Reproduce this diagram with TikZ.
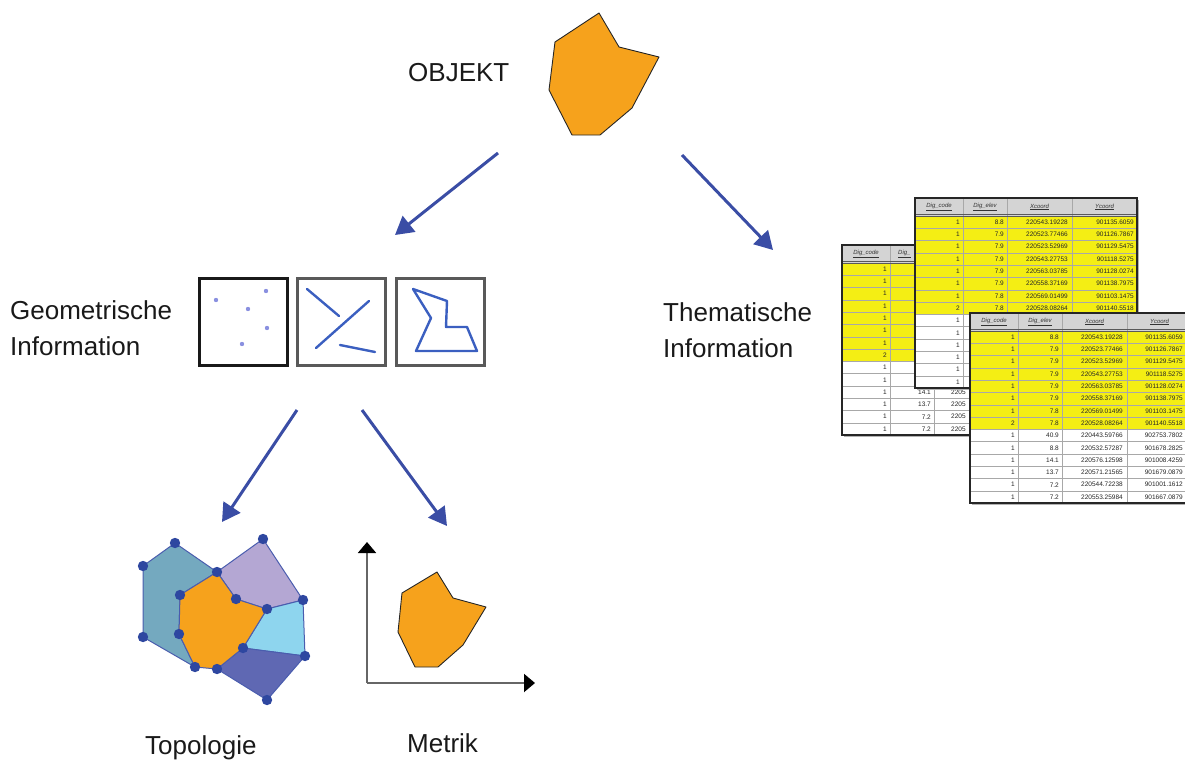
\documentclass[tikz,border=0pt]{standalone}
\usepackage{fontspec}
\setmainfont{Liberation Sans}
\usetikzlibrary{arrows.meta}
\definecolor{objorange}{HTML}{F6A21C}
\definecolor{arrowblue}{HTML}{3A4DA5}
\definecolor{topoteal}{HTML}{74A9BF}
\definecolor{topolilac}{HTML}{B4A7D3}
\definecolor{topolight}{HTML}{8ED5EE}
\definecolor{topodark}{HTML}{5F68B3}
\definecolor{topodot}{HTML}{2E47A0}
\definecolor{topoedge}{HTML}{4A5DAE}
\definecolor{geoline}{HTML}{3B5FC0}
\definecolor{geodot}{HTML}{8A90E0}
\definecolor{tabyellow}{HTML}{F4EE14}
\definecolor{tabhead}{HTML}{D4D4D4}
\definecolor{tabgrid}{HTML}{A8A8A8}
\newcommand{\tabdata}{%
    1/8.8/220543.19228/901135.6059,
    1/7.9/220523.77466/901126.7867,
    1/7.9/220523.52969/901129.5475,
    1/7.9/220543.27753/901118.5275,
    1/7.9/220563.03785/901128.0274,
    1/7.9/220558.37169/901138.7975,
    1/7.8/220569.01499/901103.1475,
    2/7.8/220528.08264/901140.5518,
    1/40.9/220443.59766/902753.7802,
    1/8.8/220532.57287/901678.2825,
    1/14.1/220576.12598/901008.4259,
    1/13.7/220571.21565/901679.0879,
    1/7.2/220544.72238/901001.1612,
    1/7.2/220553.25984/901667.0879}
% #1 x, #2 y, #3 name, #4 which table (1 back, 2 middle, 3 front)
\newcommand{\datatable}[4]{%
\begin{scope}[shift={(#1,#2)}]
  \fill[gray!60] (2,2) rectangle (224,192);
  \fill[white] (0,0) rectangle (222,190.2);
  \fill[tabhead] (0,0) rectangle (222,18);
  \fill[tabyellow] (0,18) rectangle (222,116.4);
  \foreach \k in {1,...,14}{
    \pgfmathsetmacro\yl{18+\k*12.3}
    \draw[tabgrid, line width=0.6pt] (0,\yl) -- (222,\yl);
  }
  \foreach \xx in {48,92,157}{
    \draw[tabgrid, line width=0.6pt] (\xx,0) -- (\xx,190.2);
  }
  \draw[gray!70!black, line width=1pt] (0,18) -- (222,18);
  \draw[gray!70!black, line width=0.6pt] (0,16) -- (222,16);
  \node[headtxt] (#3-h1) at (24,9) {\underline{Dig\_code}};
  \ifcase#4\or
    \node[headtxt, anchor=west] (#3-h2) at (56,9) {\underline{Dig\_}};
  \else
    \node[headtxt] (#3-h2) at (70,9) {\underline{Dig\_elev}};
    \node[headtxt] (#3-h3) at (124.5,9) {\underline{Xcoord}};
    \node[headtxt] (#3-h4) at (189.5,9) {\underline{Ycoord}};
  \fi
  \foreach \a/\b/\c/\d [count=\i] in \tabdata {
    \pgfmathsetmacro\yy{18+(\i-0.5)*12.3}
    \node[celltxt] (#3-\i-a) at (45,\yy) {\a};
    \ifcase#4\or
      \ifnum\i>10
        \node[celltxt] (#3-\i-b) at (89,\yy) {\b};
        \node[celltxt, anchor=west] (#3-\i-c) at (109,\yy) {2205};
      \fi
    \or
      \ifnum\i<9
        \node[celltxt] (#3-\i-b) at (89,\yy) {\b};
        \node[celltxt] (#3-\i-c) at (153,\yy) {\c};
        \node[celltxt] (#3-\i-d) at (219,\yy) {\d};
      \fi
    \or
      \node[celltxt] (#3-\i-b) at (89,\yy) {\b};
      \node[celltxt] (#3-\i-c) at (153,\yy) {\c};
      \node[celltxt] (#3-\i-d) at (213,\yy) {\d};
    \fi
  }
  \draw[black!85, line width=2pt] (0,0) rectangle (222,190.2);
\end{scope}}
\begin{document}
\begin{tikzpicture}[x=1pt,y=-1pt,
  lbl/.style={font=\fontsize{26}{36}\selectfont, inner sep=0pt, align=left, text=black!90},
  blarrow/.style={draw=arrowblue, line width=3pt, -{Triangle[length=18pt,width=20pt]}},
  obj/.style={fill=objorange, draw=black!85, line width=0.9pt, line join=round},
  axisline/.style={draw=gray!80!black, line width=2pt, -{Triangle[length=11pt,width=18pt,color=black]}},
  topo/.style={draw=topoedge, line width=1pt, line join=round},
  gbox/.style={draw, line width=3pt, minimum width=88pt, minimum height=87pt, inner sep=0pt},
  geo/.style={draw=geoline, line width=2.4pt, line cap=round, line join=round},
  headtxt/.style={font=\fontsize{6}{7}\selectfont\itshape, inner sep=0pt, text=black!80},
  celltxt/.style={font=\fontsize{6.5}{7}\selectfont, inner sep=0pt, anchor=east, text=black!85}
]
\useasboundingbox (0,0) rectangle (1185,765);
\clip (0,0) rectangle (1185,765);

% labels
\node[lbl, anchor=north west] (objekt) at (408,63) {OBJEKT};
\node[lbl, anchor=north west] (geoinfo) at (10,300) {Geometrische\\Information};
\node[lbl, anchor=north west] (theminfo) at (663,302) {Thematische\\Information};
\node[lbl, anchor=north west] (topologie) at (145,735) {Topologie};
\node[lbl, anchor=north west] (metrik) at (407,733) {Metrik};

% object polygon
\filldraw[obj] (599,13) -- (619,47) -- (659,57) -- (632,108) -- (600,135) -- (572,135) -- (549,90) -- (555,42) -- cycle;

% arrows
\coordinate (a1s) at (498,153); \coordinate (a1e) at (395,235);
\coordinate (a2s) at (682,155); \coordinate (a2e) at (773,250);
\coordinate (a3s) at (297,410); \coordinate (a3e) at (222,522);
\coordinate (a4s) at (362,410); \coordinate (a4e) at (447,526);
\draw[blarrow] (a1s) -- (a1e);
\draw[blarrow] (a2s) -- (a2e);
\draw[blarrow] (a3s) -- (a3e);
\draw[blarrow] (a4s) -- (a4e);

% geometric boxes
\node[gbox, draw=black!90] (box1) at (243,321.5) {};
\node[gbox, draw=gray!70!black] (box2) at (341,321.5) {};
\node[gbox, draw=gray!70!black] (box3) at (440.5,321.5) {};
\foreach \p in {(216,300),(266,291),(248,309),(267,328),(242,344)}
  \fill[geodot] \p circle (2.2);
\draw[geo] (307,289) -- (339,316);
\draw[geo] (316,348) -- (369,301);
\draw[geo] (340,345) -- (375,352);
\draw[geo] (413,289) -- (447,301) -- (446,327) -- (467,327) -- (477,351) -- (416,351) -- (431,318) -- cycle;

% topology
\coordinate (A) at (175,543);
\coordinate (B) at (143,566);
\coordinate (C) at (143,637);
\coordinate (D) at (195,667);
\coordinate (E) at (217,572);
\coordinate (F) at (263,539);
\coordinate (G) at (180,595);
\coordinate (H) at (179,634);
\coordinate (I) at (236,599);
\coordinate (J) at (303,600);
\coordinate (K) at (267,609);
\coordinate (L) at (243,648);
\coordinate (M) at (305,656);
\coordinate (N) at (217,669);
\coordinate (O) at (267,700);
\filldraw[topo, fill=topoteal] (B) -- (A) -- (E) -- (G) -- (H) -- (D) -- (C) -- cycle;
\filldraw[topo, fill=topolilac] (E) -- (F) -- (J) -- (K) -- (I) -- cycle;
\filldraw[topo, fill=topolight] (K) -- (J) -- (M) -- (L) -- cycle;
\filldraw[topo, fill=topodark] (L) -- (M) -- (O) -- (N) -- cycle;
\filldraw[topo, fill=objorange] (E) -- (I) -- (K) -- (L) -- (N) -- (D) -- (H) -- (G) -- cycle;
\foreach \p in {A,B,C,D,E,F,G,H,I,J,K,L,M,N,O}
  \fill[topodot] (\p) circle (5.2);

% metric
\coordinate (origin) at (367,683);
\coordinate (ytip) at (367,542);
\coordinate (xtip) at (535,683);
\draw[axisline] (origin) -- (ytip);
\draw[axisline] (origin) -- (xtip);
\filldraw[obj] (437,572) -- (453,598) -- (486,607) -- (463,645) -- (438,667) -- (415,667) -- (398,632) -- (402,593) -- cycle;

% tables
\datatable{842}{245}{tA}{1}
\datatable{915}{198}{tB}{2}
\datatable{970}{313}{tC}{3}
\end{tikzpicture}
\end{document}
